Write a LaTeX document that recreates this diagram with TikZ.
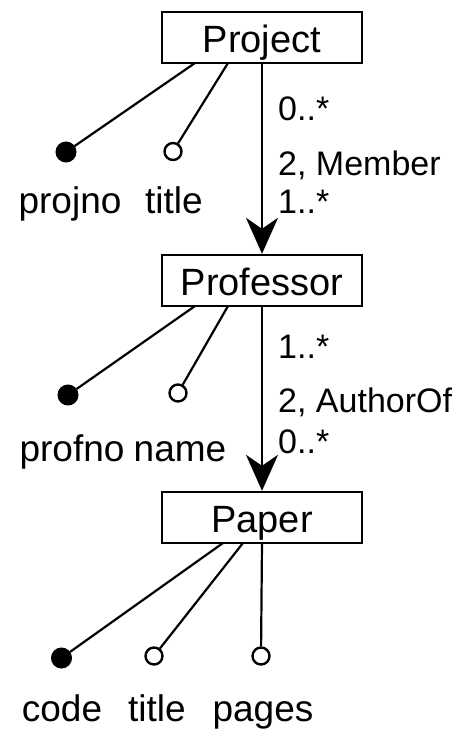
\documentclass[tikz,border=0pt]{standalone}
\usepackage{fontspec}
\setmainfont{Liberation Sans}
\usetikzlibrary{arrows.meta}
\begin{document}
\begin{tikzpicture}[x=1pt,y=-1pt,
  entity/.style={draw,line width=2.4pt,minimum width=200pt,minimum height=51pt,inner sep=0pt,
    text height=33pt,text depth=4pt,font=\fontsize{38}{40}\selectfont},
  keydot/.style={circle,fill=black,draw=black,line width=1pt,minimum size=20pt,inner sep=0pt},
  attdot/.style={circle,fill=white,draw=black,line width=2.4pt,minimum size=17pt,inner sep=0pt},
  attlabel/.style={anchor=base,inner sep=0pt,font=\fontsize{37}{39}\selectfont},
  rolelabel/.style={anchor=base west,inner sep=0pt,font=\fontsize{34}{36}\selectfont},
  link/.style={line width=2.2pt},
  rel/.style={line width=2.2pt,-{Stealth[length=36pt,width=32pt,inset=11pt]}}]
\useasboundingbox (0,0) rectangle (467,732);
% entities
\node[entity] (project) at (262,37.5) {Project};
\node[entity] (professor) at (262,280.5) {Professor};
\node[entity] (paper) at (262,517.5) {Paper};
% relationships
\draw[rel] (project.south) -- (professor.north);
\draw[rel] (professor.south) -- (paper.north);
\node[rolelabel] (m1) at (278,120) {0..*};
\node[rolelabel] (m2) at (278,175) {2, Member};
\node[rolelabel] (m3) at (278,213) {1..*};
\node[rolelabel] (a1) at (278,358) {1..*};
\node[rolelabel] (a2) at (278,412) {2, AuthorOf};
\node[rolelabel] (a3) at (278,453) {0..*};
% Project attributes
\coordinate (pj1) at (195,63);
\coordinate (pj2) at (228,63);
\node[keydot] (projno) at (66,152) {};
\node[attdot] (ptitle) at (173,151.5) {};
\draw[link] (pj1) -- (projno);
\draw[link] (pj2) -- (ptitle);
\node[attlabel] (lprojno) at (70,213) {projno};
\node[attlabel] (lptitle) at (174,213) {title};
% Professor attributes
\coordinate (pf1) at (195,306);
\coordinate (pf2) at (228,306);
\node[keydot] (profno) at (68,395) {};
\node[attdot] (pname) at (178,393) {};
\draw[link] (pf1) -- (profno);
\draw[link] (pf2) -- (pname);
\node[attlabel] (lprofno) at (72,461) {profno};
\node[attlabel] (lpname) at (180,461) {name};
% Paper attributes
\coordinate (pa1) at (223,543);
\coordinate (pa2) at (243,543);
\coordinate (pa3) at (262,543);
\node[keydot] (code) at (61.5,658) {};
\node[attdot] (ttitle) at (154,656) {};
\node[attdot] (pages) at (261,656) {};
\draw[link] (pa1) -- (code);
\draw[link] (pa2) -- (ttitle);
\draw[link] (pa3) -- (pages);
\node[attlabel] (lcode) at (62,721) {code};
\node[attlabel] (lttitle) at (157,721) {title};
\node[attlabel] (lpages) at (263,721) {pages};
\end{tikzpicture}
\end{document}
